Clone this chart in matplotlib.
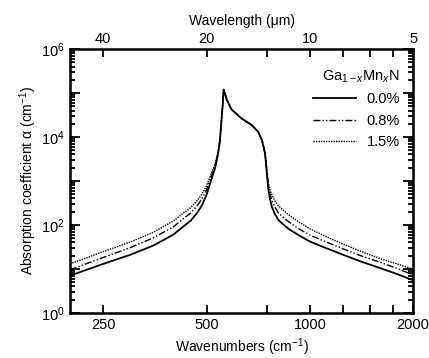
import matplotlib
matplotlib.use("Agg")
import matplotlib.pyplot as plt
import numpy as np
from matplotlib.ticker import FixedLocator, LogLocator, FuncFormatter, NullFormatter

plt.rcParams['font.family'] = ['Liberation Sans', 'DejaVu Sans']
plt.rcParams['mathtext.fontset'] = 'custom'
plt.rcParams['mathtext.rm'] = 'Liberation Sans'
plt.rcParams['mathtext.it'] = 'Liberation Sans:italic'

# wavenumber grid (cm^-1)
wavenumber = [200, 250, 300, 350, 400, 430, 450, 470, 485, 500, 515, 530, 540, 547,
              553, 558, 561, 573, 592, 632, 677, 708, 725, 733, 740, 745, 750, 757,
              765, 775, 790, 810, 840, 870, 930, 1000, 1100, 1250, 1400, 1600, 1800, 2000]

# absorption coefficient (cm^-1) for each Mn fraction
alpha_00 = [7.0, 13, 21, 34, 60, 95, 125, 190, 280, 480, 1000, 2000, 4000, 8000,
            2.5e4, 6e4, 1.2e5, 7e4, 4.2e4, 2.65e4, 1.87e4, 1.3e4, 8.5e3, 6e3, 4300, 2600, 1400, 650,
            400, 260, 180, 130, 100, 80, 58, 42, 31, 21, 15, 10.5, 7.6, 5.5]
alpha_08 = [9.5, 18.2, 30.5, 51, 90, 143, 188, 275, 392, 624, 1200, 2240, 4240, 8240,
            2.5e4, 6e4, 1.2e5, 7e4, 4.2e4, 2.65e4, 1.87e4, 1.3e4, 8.5e3, 6e3, 4390, 2730, 1540, 780,
            520, 364, 261, 189, 145, 116, 81, 59, 43, 28.6, 20.3, 14.2, 10.2, 7.3]
alpha_15 = [13, 24.7, 41, 68, 123, 190, 250, 360, 504, 770, 1400, 2500, 4480, 8400,
            2.5e4, 6e4, 1.2e5, 7e4, 4.2e4, 2.65e4, 1.87e4, 1.3e4, 8.5e3, 6e3, 4520, 2860, 1680, 910,
            640, 494, 360, 273, 210, 168, 116, 82, 57, 36.8, 25.5, 17.3, 12.9, 9.9]

labels = ['0.0%', '0.8%', '1.5%']

x_major = [250, 500, 1000, 2000]
x_minor = [750, 1250, 1500, 1750]
wavelength_labels = [40, 20, 10, 5]

fs = 10

fig = plt.figure(figsize=(4.29, 3.58), dpi=100)
ax = fig.add_axes([0.163, 0.126, 0.8, 0.737])

ax.plot(wavenumber, alpha_00, color='black', lw=1.3, ls='-', label=labels[0])
ax.plot(wavenumber, alpha_08, color='black', lw=1.0, ls=(0, (5, 1.5, 1, 1.5, 1, 1.5)), label=labels[1])
ax.plot(wavenumber, alpha_15, color='black', lw=1.0, ls=(0, (1, 0.8)), label=labels[2])

ax.set_xscale('log')
ax.set_yscale('log')
ax.set_xlim(200, 2000)
ax.set_ylim(1, 1e6)

ax.xaxis.set_major_locator(FixedLocator(x_major))
ax.xaxis.set_minor_locator(FixedLocator(x_minor))
ax.xaxis.set_major_formatter(FuncFormatter(lambda v, p: f'{int(v)}'))
ax.xaxis.set_minor_formatter(NullFormatter())

ax.yaxis.set_major_locator(LogLocator(base=10, numticks=10))
ax.yaxis.set_minor_locator(LogLocator(base=10, subs=np.arange(2, 10), numticks=20))


def ylab(v, p):
    e = int(round(np.log10(v)))
    return f'$\\mathregular{{10^{{{e}}}}}$' if e % 2 == 0 else ''


ax.yaxis.set_major_formatter(FuncFormatter(ylab))
ax.yaxis.set_minor_formatter(NullFormatter())

ax.tick_params(which='both', direction='in', top=False, right=True, labelsize=fs + 0.5, width=1.3)
ax.tick_params(axis='x', which='both', length=6)
ax.tick_params(axis='y', which='major', length=7)
ax.tick_params(axis='y', which='minor', length=3.5)
for s in ax.spines.values():
    s.set_linewidth(1.8)

ax.set_xlabel('Wavenumbers (cm$^{\\mathregular{-1}}$)', fontsize=fs, labelpad=3)
ax.set_ylabel('Absorption coefficient \u03b1 (cm$^{\\mathregular{-1}}$)', fontsize=fs, labelpad=2)

# top axis: wavelength in micrometres
ax2 = ax.twiny()
ax2.set_xscale('log')
ax2.set_xlim(ax.get_xlim())
ax2.xaxis.set_major_locator(FixedLocator([1e4 / w for w in wavelength_labels]))
ax2.xaxis.set_minor_locator(FixedLocator(x_minor))
ax2.xaxis.set_major_formatter(FuncFormatter(lambda v, p: f'{int(round(1e4 / v))}'))
ax2.xaxis.set_minor_formatter(NullFormatter())
ax2.tick_params(which='both', direction='in', length=6, width=1.3, labelsize=fs + 0.5, pad=2)
ax2.set_xlabel('Wavelength (\u03bcm)', fontsize=fs, labelpad=5)

leg = ax.legend(title='Ga$_{\\mathregular{1-}x}$Mn$_x$N', loc='upper right',
                bbox_to_anchor=(1.0, 0.975), frameon=False, fontsize=fs + 0.5,
                title_fontsize=fs + 0.5, handlelength=3.0, handletextpad=0.7,
                labelspacing=0.5)
leg._legend_box.align = 'right'

fig.savefig('out.png', dpi=100)
